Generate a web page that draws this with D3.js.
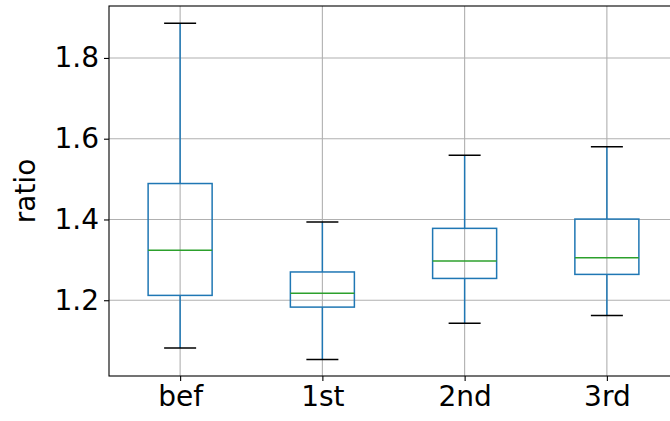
<!DOCTYPE html>
<html><head><meta charset="utf-8">
<script src="https://cdn.jsdelivr.net/npm/d3@7"></script>
<style>body{margin:0;background:#fff}svg{display:block}text{font-family:"DejaVu Sans",sans-serif}</style>
</head><body><svg id="c" width="670" height="421"></svg>
<script>
const categories = ["bef","1st","2nd","3rd"];
const whiskerLow  = [1.082, 1.053, 1.143, 1.162];
const q1          = [1.212, 1.183, 1.254, 1.264];
const median      = [1.324, 1.217, 1.297, 1.305];
const q3          = [1.489, 1.270, 1.378, 1.401];
const whiskerHigh = [1.886, 1.394, 1.559, 1.580];
const yTicks = [1.2, 1.4, 1.6, 1.8];

const svg = d3.select("#c");
const L = 109, T = 6, R = 678, B = 376;
const x = d3.scaleLinear().domain([0.5, 4.5]).range([L, R]);
const y = d3.scaleLinear().domain([1.0124, 1.9286]).range([B, T]);
const boxW = 0.45;
const lw = 1.5;

// grid
const g = svg.append("g");
g.selectAll("line.gy").data(yTicks).join("line")
  .attr("x1", L).attr("x2", R).attr("y1", d => y(d)).attr("y2", d => y(d))
  .attr("stroke", "#b0b0b0").attr("stroke-width", 1.1);
g.selectAll("line.gx").data(categories).join("line")
  .attr("x1", (d,i) => x(i+1)).attr("x2", (d,i) => x(i+1)).attr("y1", T).attr("y2", B)
  .attr("stroke", "#b0b0b0").attr("stroke-width", 1.1);

// boxes
const data = categories.map((c,i) => ({c, i, lo: whiskerLow[i], q1: q1[i], med: median[i], q3: q3[i], hi: whiskerHigh[i]}));
const bx = svg.append("g").selectAll("g").data(data).join("g");
bx.append("line").attr("x1", d => x(d.i+1)).attr("x2", d => x(d.i+1))
  .attr("y1", d => y(d.q3)).attr("y2", d => y(d.hi)).attr("stroke", "#1f77b4").attr("stroke-width", lw);
bx.append("line").attr("x1", d => x(d.i+1)).attr("x2", d => x(d.i+1))
  .attr("y1", d => y(d.q1)).attr("y2", d => y(d.lo)).attr("stroke", "#1f77b4").attr("stroke-width", lw);
bx.append("line").attr("x1", d => x(d.i+1 - boxW/4)).attr("x2", d => x(d.i+1 + boxW/4))
  .attr("y1", d => y(d.hi)).attr("y2", d => y(d.hi)).attr("stroke", "#000").attr("stroke-width", lw);
bx.append("line").attr("x1", d => x(d.i+1 - boxW/4)).attr("x2", d => x(d.i+1 + boxW/4))
  .attr("y1", d => y(d.lo)).attr("y2", d => y(d.lo)).attr("stroke", "#000").attr("stroke-width", lw);
bx.append("rect").attr("x", d => x(d.i+1 - boxW/2)).attr("width", d => x(d.i+1 + boxW/2) - x(d.i+1 - boxW/2))
  .attr("y", d => y(d.q3)).attr("height", d => y(d.q1) - y(d.q3))
  .attr("fill", "none").attr("stroke", "#1f77b4").attr("stroke-width", lw);
bx.append("line").attr("x1", d => x(d.i+1 - boxW/2)).attr("x2", d => x(d.i+1 + boxW/2))
  .attr("y1", d => y(d.med)).attr("y2", d => y(d.med)).attr("stroke", "#2ca02c").attr("stroke-width", lw);

// axes
const yAxis = d3.axisLeft(y).tickValues(yTicks).tickFormat(d3.format(".1f")).tickSize(5).tickPadding(5);
const ya = svg.append("g").attr("transform", `translate(${L},0)`).call(yAxis);
const xAxis = d3.axisBottom(x).tickValues([1,2,3,4]).tickFormat((d) => categories[d-1]).tickSize(5).tickPadding(5);
const xa = svg.append("g").attr("transform", `translate(0,${B})`).call(xAxis);
[ya, xa].forEach(a => {
  a.select(".domain").remove();
  a.selectAll(".tick line").attr("stroke", "#000").attr("stroke-width", 1.1);
  a.selectAll(".tick text").attr("font-size", 28).attr("fill", "#000").attr("font-family", "DejaVu Sans");
});
// spines
svg.append("rect").attr("x", L).attr("y", T).attr("width", R - L).attr("height", B - T)
  .attr("fill", "none").attr("stroke", "#000").attr("stroke-width", 1.1);

svg.append("text").attr("transform", `translate(35,${(T+B)/2}) rotate(-90)`)
  .attr("text-anchor", "middle").attr("font-size", 28).attr("fill", "#000").text("ratio");
</script></body></html>
